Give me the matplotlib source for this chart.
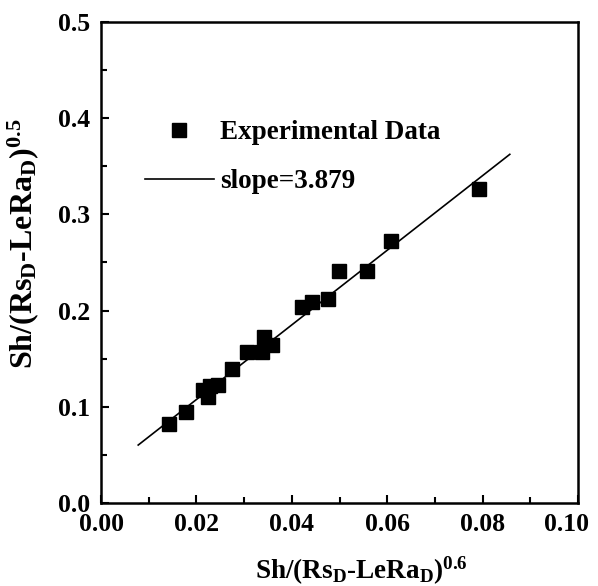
import matplotlib
matplotlib.use("Agg")
import matplotlib.pyplot as plt
import matplotlib.transforms as mtransforms
import numpy as np
from matplotlib.ticker import MultipleLocator
from matplotlib.lines import Line2D

# Data
x_exp = [0.0143, 0.0178, 0.0214, 0.0224, 0.0229, 0.0245, 0.0275, 0.0306,
         0.0338, 0.0342, 0.0358, 0.0421, 0.0442, 0.0476, 0.0499, 0.0558,
         0.0608, 0.0792]
y_exp = [0.082, 0.095, 0.1175, 0.110, 0.1216, 0.1227, 0.139, 0.157,
         0.157, 0.1726, 0.164, 0.204, 0.209, 0.212, 0.241, 0.241,
         0.272, 0.326]
fit_slope = 3.879
fit_intercept = 0.030
fit_x_range = [0.0078, 0.0857]

xticks = [0.00, 0.02, 0.04, 0.06, 0.08, 0.10]
yticks = [0.0, 0.1, 0.2, 0.3, 0.4, 0.5]

plt.rcParams['font.family'] = ['Liberation Serif', 'DejaVu Serif']
plt.rcParams['font.weight'] = 'bold'
plt.rcParams['mathtext.fontset'] = 'custom'
plt.rcParams['mathtext.rm'] = 'Liberation Serif:bold'
plt.rcParams['mathtext.it'] = 'Liberation Serif:bold'
plt.rcParams['mathtext.bf'] = 'Liberation Serif:bold'

fig = plt.figure(figsize=(5.98, 5.86), dpi=100)
ax = fig.add_axes([0.1689, 0.1416, 0.7977, 0.8209])

fx = np.array(fit_x_range)
ax.plot(fx, fit_slope * fx + fit_intercept, color='black', lw=1.2)
ax.plot(x_exp, y_exp, 's', color='black', markersize=10.5)

ax.set_xlim(0, 0.1)
ax.set_ylim(0, 0.5)
ax.set_xticks(xticks)
ax.set_yticks(yticks)
ax.set_xticklabels([f"{v:.2f}" for v in xticks])
ax.set_yticklabels([f"{v:.1f}" for v in yticks])
ax.xaxis.set_minor_locator(MultipleLocator(0.01))
ax.yaxis.set_minor_locator(MultipleLocator(0.05))
ax.tick_params(which='both', direction='in', top=False, right=False,
               labelsize=18.5, width=1.5)
ax.tick_params(which='major', length=6)
ax.tick_params(axis='x', which='major', pad=7)
ax.tick_params(axis='y', which='major', pad=8)
ax.tick_params(which='minor', length=4)
for s in ax.spines.values():
    s.set_linewidth(1.8)

# last x tick label sits slightly left in the reference (kept inside figure)
last = ax.xaxis.get_major_ticks()[-1].label1
last.set_transform(last.get_transform() +
                   mtransforms.ScaledTranslation(-8 / 72, 0, fig.dpi_scale_trans))

ax.set_xlabel(r'Sh/(Rs$_{\rm D}$-LeRa$_{\rm D}$)$^{0.6}$', fontsize=19.5,
              fontweight='bold', va='top')
ax.xaxis.set_label_coords(0.545, -0.108)
ax.set_ylabel(r'Sh/(Rs$_{\rm D}$-LeRa$_{\rm D}$)$^{0.5}$', fontsize=23,
              fontweight='bold', va='bottom')
ax.yaxis.set_label_coords(-0.125, 0.54)

handles = [Line2D([], [], marker='s', color='black', ls='none', markersize=10.5),
           Line2D([], [], color='black', lw=1.2)]
ax.legend(handles, ['Experimental Data', 'slope=3.879'], loc='upper left',
          bbox_to_anchor=(0.092, 0.796), frameon=False, borderpad=0,
          borderaxespad=0, handlelength=2.55, handletextpad=0.22,
          labelspacing=0.9, prop={'family': 'Liberation Serif',
                                  'weight': 'bold', 'size': 19.5})

fig.savefig('out.png', dpi=100)
